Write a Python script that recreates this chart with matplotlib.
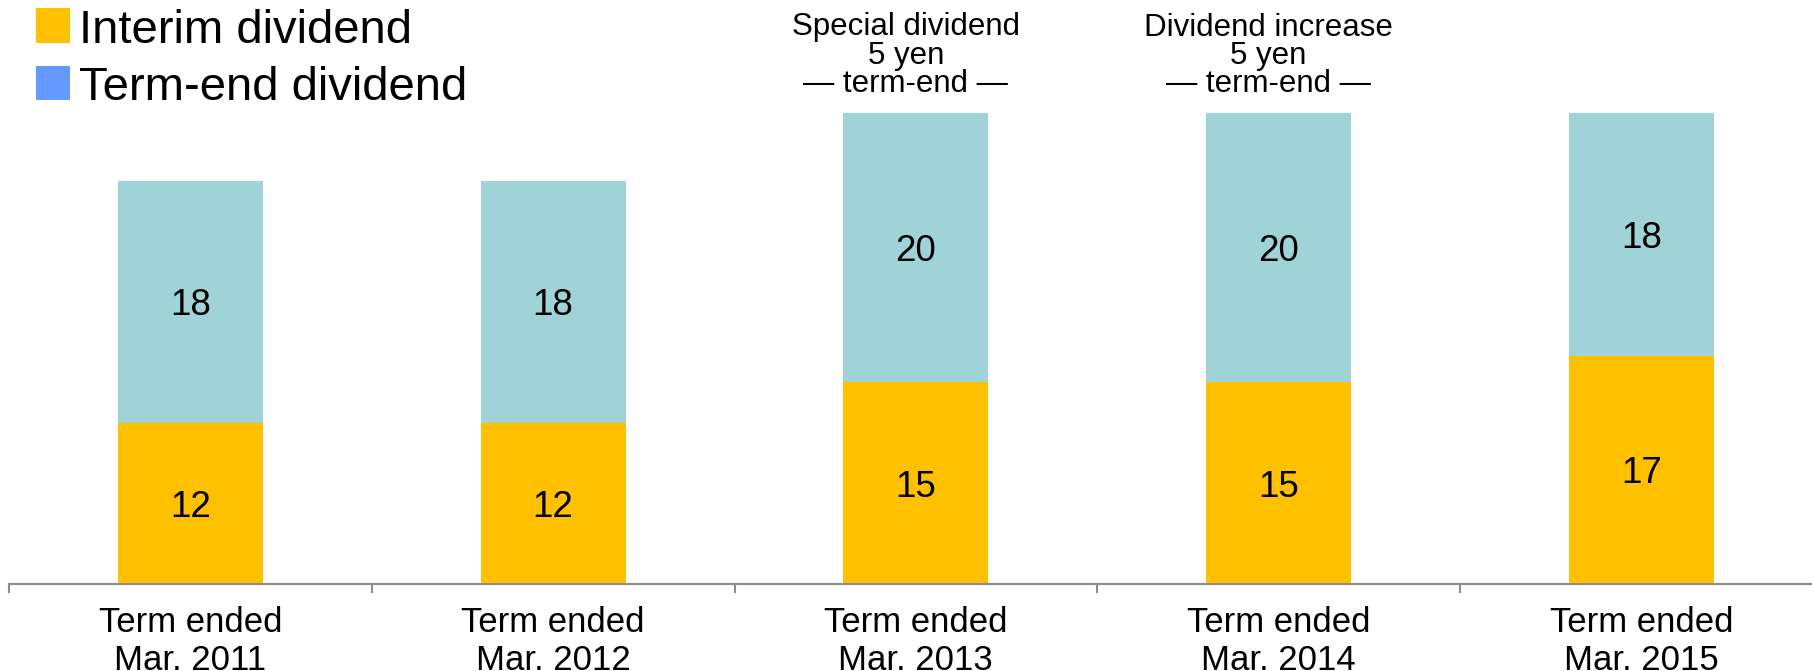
import matplotlib
matplotlib.use("Agg")
import matplotlib.pyplot as plt
from matplotlib.patches import Rectangle
from matplotlib.ticker import FixedLocator

# Dividend per share (yen) by fiscal year
terms = ["Term ended\nMar. 2011", "Term ended\nMar. 2012", "Term ended\nMar. 2013",
         "Term ended\nMar. 2014", "Term ended\nMar. 2015"]
interim = [12, 12, 15, 15, 17]
term_end = [18, 18, 20, 20, 18]
notes = {2: ["Special dividend", "5 yen", "\u2014 term-end \u2014"],
         3: ["Dividend increase", "5 yen", "\u2014 term-end \u2014"]}
legend_labels = ["Interim dividend", "Term-end dividend"]

C_INTERIM = "#FFC000"
C_TERM = "#A0D3D8"
C_TERM_KEY = "#6699FF"
FONT = "Liberation Sans"

W, H = 1812, 671
fig = plt.figure(figsize=(W / 100, H / 100), dpi=100)

base_px = 584.3
left_px = 9
cat_px = 362.75
ax = fig.add_axes([left_px / W, (H - base_px) / H, 1 - left_px / W, base_px / H])

x = list(range(len(terms)))
ax.bar(x, interim, width=0.4, color=C_INTERIM, zorder=2)
ax.bar(x, term_end, width=0.4, bottom=interim, color=C_TERM, zorder=2)

px_per_unit = 471.0 / 35
ax.set_ylim(0, base_px / px_per_unit)
ax.set_xlim(-0.5, -0.5 + (W - left_px) / cat_px)

for s in ["top", "right", "left"]:
    ax.spines[s].set_visible(False)
ax.spines["bottom"].set_color("#8c8c8c")
ax.spines["bottom"].set_linewidth(1.5)
ax.set_yticks([])

ax.set_xticks(x)
ax.set_xticklabels(terms, fontsize=25, family=FONT, linespacing=1.2)
ax.tick_params(axis="x", which="major", length=0, pad=15.5)
ax.xaxis.set_minor_locator(FixedLocator([i - 0.5 for i in range(len(terms))]))
ax.tick_params(axis="x", which="minor", length=6.5, width=1.5, color="#8c8c8c")

# Value labels in the middle of each segment
for i in x:
    ax.text(i, interim[i] / 2, str(interim[i]), ha="center", va="center_baseline",
            fontsize=26.5, family=FONT, color="black", zorder=3)
    ax.text(i, interim[i] + term_end[i] / 2, str(term_end[i]), ha="center",
            va="center_baseline", fontsize=26.5, family=FONT, color="black", zorder=3)

# Notes above the bars
for i, lines in notes.items():
    ax.text(i - 0.028, 1 - 12.5 / base_px, "\n".join(lines), transform=ax.get_xaxis_transform(),
            ha="center", va="top", fontsize=22.5, family=FONT, linespacing=0.93,
            multialignment="center", clip_on=False)

# Legend keys
for k, (label, col) in enumerate(zip(legend_labels, [C_INTERIM, C_TERM_KEY])):
    top = 8.3 + k * 57.7
    fig.add_artist(Rectangle((36 / W, 1 - (top + 34.4) / H), 34 / W, 34.4 / H,
                             transform=fig.transFigure, color=col, lw=0))
    fig.text(79 / W, 1 - (top + 34.4) / H, label, ha="left", va="baseline",
             fontsize=34, family=FONT, color="black")

fig.savefig("out.png", dpi=100)
